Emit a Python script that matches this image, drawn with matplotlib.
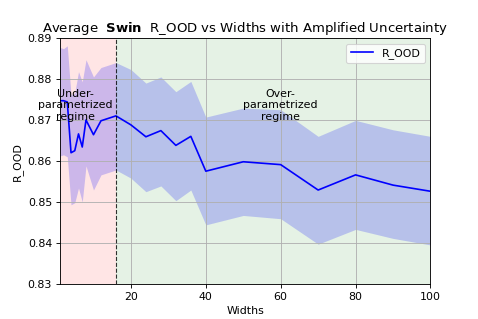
import matplotlib
matplotlib.use("Agg")
import matplotlib.pyplot as plt

widths = [1, 2, 3, 4, 5, 6, 7, 8, 10, 12, 16, 20, 24, 28, 32, 36, 40, 50, 60, 70, 80, 90, 100]
r_ood = [0.8747, 0.8747, 0.8744, 0.8620, 0.8625, 0.8666, 0.8634, 0.8700, 0.8664, 0.8698,
         0.8710, 0.8688, 0.8659, 0.8674, 0.8638, 0.8660, 0.8575, 0.8598, 0.8591, 0.8529,
         0.8566, 0.8541, 0.8526]
r_upper = [0.8877, 0.8874, 0.8881, 0.8761, 0.8766, 0.8818, 0.8793, 0.8847, 0.8805, 0.8828,
           0.8840, 0.8823, 0.8790, 0.8805, 0.8769, 0.8794, 0.8707, 0.8729, 0.8725, 0.8660,
           0.8699, 0.8676, 0.8660]
r_lower = [0.8612, 0.8615, 0.8610, 0.8493, 0.8498, 0.8534, 0.8500, 0.8588, 0.8529, 0.8566,
           0.8578, 0.8558, 0.8525, 0.8539, 0.8503, 0.8529, 0.8444, 0.8467, 0.8459, 0.8397,
           0.8433, 0.8411, 0.8395]
threshold = 16

dpi = 79.7
fig, ax = plt.subplots(figsize=(478.3 / dpi, 319.3 / dpi), dpi=dpi)

ax.axvspan(widths[0], threshold, color='red', alpha=0.1, lw=0)
ax.axvspan(threshold, widths[-1], color='green', alpha=0.1, lw=0)
ax.fill_between(widths, r_lower, r_upper, color='blue', alpha=0.2, lw=0)
ax.plot(widths, r_ood, color='blue', label='R_OOD')
ax.axvline(threshold, color='k', linestyle='--', lw=1, alpha=0.8)

ax.text(5.2, 0.8737, 'Under-\nparametrized\nregime', ha='center', va='center')
ax.text(60, 0.8737, 'Over-\nparametrized\nregime', ha='center', va='center')

ax.set_xlim(widths[0], widths[-1])
ax.set_ylim(0.83, 0.89)
ax.set_xticks([20, 40, 60, 80, 100])
ax.grid(True)
ax.set_xlabel('Widths')
ax.set_ylabel('R_OOD')
ax.set_title('Average  $\\bf{Swin}$  R_OOD vs Widths with Amplified Uncertainty')
ax.legend(loc='upper right')

fig.savefig('out.png', dpi=dpi)
